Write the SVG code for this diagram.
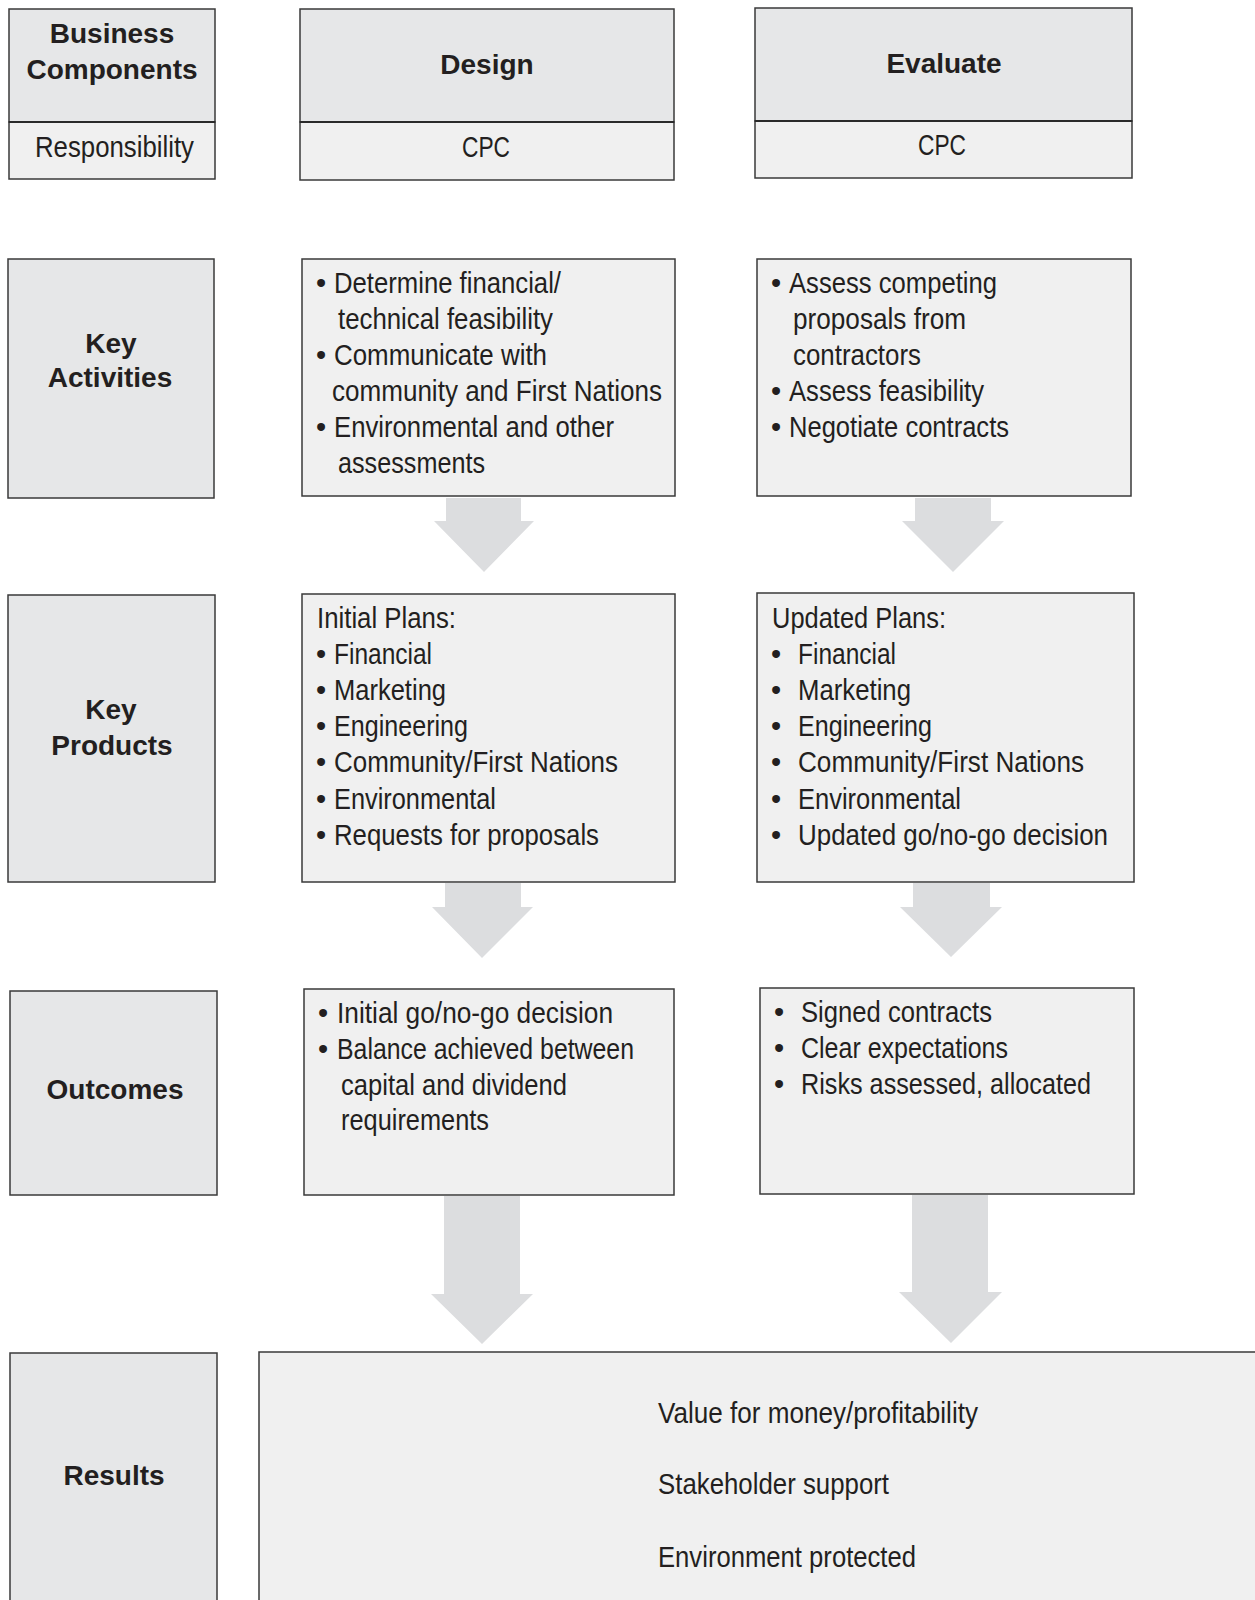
<svg xmlns="http://www.w3.org/2000/svg" width="1255" height="1600" viewBox="0 0 1255 1600">
<style>
.hd{fill:#e6e7e8;stroke:#3a3a3a;stroke-width:1.5}
.bx{fill:#f0f0f0;stroke:#3a3a3a;stroke-width:1.5}
.dv{stroke:#2a2a2a;stroke-width:2.2}
.b{font-family:"Liberation Sans",Arial,sans-serif;font-weight:bold;font-size:28px;fill:#231f20;text-anchor:middle}
.t{font-family:"Liberation Sans",Arial,sans-serif;font-size:29px;fill:#231f20}
.arr{fill:#dcdddf}
</style>
<rect width="1255" height="1600" fill="#ffffff"/>
<g id="connectors">
<polygon class="arr" points="446,498 521,498 521,521 534,521 484,572 434,521 446,521"/>
<polygon class="arr" points="915,498 991,498 991,521 1004,521 953,572 902,521 915,521"/>
<polygon class="arr" points="445,883 521,883 521,907 533,907 482,958 432,907 445,907"/>
<polygon class="arr" points="913,883 990,883 990,907 1002,907 951,957 900,907 913,907"/>
<polygon class="arr" points="444,1196 520,1196 520,1294 533,1294 482,1344 431,1294 444,1294"/>
<polygon class="arr" points="912,1195 988,1195 988,1292 1002,1292 951,1343 899,1292 912,1292"/>
</g>
<g id="business-components">
<rect class="hd" x="9" y="9" width="206" height="113"/>
<rect class="bx" x="9" y="122" width="206" height="57"/>
<line class="dv" x1="9" y1="122" x2="215" y2="122"/>
<text class="b" x="112" y="43">Business</text>
<text class="b" x="112" y="79">Components</text>
<text class="t" x="35" y="157" textLength="159" lengthAdjust="spacingAndGlyphs">Responsibility</text>
</g>
<g id="design-header">
<rect class="hd" x="300" y="9" width="374" height="113"/>
<rect class="bx" x="300" y="122" width="374" height="58"/>
<line class="dv" x1="300" y1="122" x2="674" y2="122"/>
<text class="b" x="487" y="74">Design</text>
<text class="t" x="462" y="157" textLength="48" lengthAdjust="spacingAndGlyphs">CPC</text>
</g>
<g id="evaluate-header">
<rect class="hd" x="755" y="8" width="377" height="113"/>
<rect class="bx" x="755" y="121" width="377" height="57"/>
<line class="dv" x1="755" y1="121" x2="1132" y2="121"/>
<text class="b" x="944" y="73">Evaluate</text>
<text class="t" x="918" y="155" textLength="48" lengthAdjust="spacingAndGlyphs">CPC</text>
</g>
<g id="key-activities">
<rect class="hd" x="8" y="259" width="206" height="239"/>
<text class="b" x="111" y="353">Key</text>
<text class="b" x="110" y="387">Activities</text>
</g>
<g id="design-activities">
<rect class="bx" x="302" y="259" width="373" height="237"/>
<text class="t" x="316" y="293">•</text>
<text class="t" x="334" y="293" textLength="227" lengthAdjust="spacingAndGlyphs">Determine financial/</text>
<text class="t" x="338" y="329" textLength="215" lengthAdjust="spacingAndGlyphs">technical feasibility</text>
<text class="t" x="316" y="365">•</text>
<text class="t" x="334" y="365" textLength="213" lengthAdjust="spacingAndGlyphs">Communicate with</text>
<text class="t" x="332" y="401" textLength="330" lengthAdjust="spacingAndGlyphs">community and First Nations</text>
<text class="t" x="316" y="437">•</text>
<text class="t" x="334" y="437" textLength="280" lengthAdjust="spacingAndGlyphs">Environmental and other</text>
<text class="t" x="338" y="473" textLength="147" lengthAdjust="spacingAndGlyphs">assessments</text>
</g>
<g id="evaluate-activities">
<rect class="bx" x="757" y="259" width="374" height="237"/>
<text class="t" x="771" y="293">•</text>
<text class="t" x="789" y="293" textLength="208" lengthAdjust="spacingAndGlyphs">Assess competing</text>
<text class="t" x="793" y="329" textLength="173" lengthAdjust="spacingAndGlyphs">proposals from</text>
<text class="t" x="793" y="365" textLength="128" lengthAdjust="spacingAndGlyphs">contractors</text>
<text class="t" x="771" y="401">•</text>
<text class="t" x="789" y="401" textLength="195" lengthAdjust="spacingAndGlyphs">Assess feasibility</text>
<text class="t" x="771" y="437">•</text>
<text class="t" x="789" y="437" textLength="220" lengthAdjust="spacingAndGlyphs">Negotiate contracts</text>
</g>
<g id="key-products">
<rect class="hd" x="8" y="595" width="207" height="287"/>
<text class="b" x="111" y="719">Key</text>
<text class="b" x="112" y="755">Products</text>
</g>
<g id="design-products">
<rect class="bx" x="302" y="594" width="373" height="288"/>
<text class="t" x="317" y="628" textLength="139" lengthAdjust="spacingAndGlyphs">Initial Plans:</text>
<text class="t" x="316" y="664">•</text>
<text class="t" x="334" y="664" textLength="98" lengthAdjust="spacingAndGlyphs">Financial</text>
<text class="t" x="316" y="700">•</text>
<text class="t" x="334" y="700" textLength="112" lengthAdjust="spacingAndGlyphs">Marketing</text>
<text class="t" x="316" y="736">•</text>
<text class="t" x="334" y="736" textLength="134" lengthAdjust="spacingAndGlyphs">Engineering</text>
<text class="t" x="316" y="772">•</text>
<text class="t" x="334" y="772" textLength="284" lengthAdjust="spacingAndGlyphs">Community/First Nations</text>
<text class="t" x="316" y="809">•</text>
<text class="t" x="334" y="809" textLength="162" lengthAdjust="spacingAndGlyphs">Environmental</text>
<text class="t" x="316" y="845">•</text>
<text class="t" x="334" y="845" textLength="265" lengthAdjust="spacingAndGlyphs">Requests for proposals</text>
</g>
<g id="evaluate-products">
<rect class="bx" x="757" y="593" width="377" height="289"/>
<text class="t" x="772" y="628" textLength="174" lengthAdjust="spacingAndGlyphs">Updated Plans:</text>
<text class="t" x="771" y="664">•</text>
<text class="t" x="798" y="664" textLength="98" lengthAdjust="spacingAndGlyphs">Financial</text>
<text class="t" x="771" y="700">•</text>
<text class="t" x="798" y="700" textLength="113" lengthAdjust="spacingAndGlyphs">Marketing</text>
<text class="t" x="771" y="736">•</text>
<text class="t" x="798" y="736" textLength="134" lengthAdjust="spacingAndGlyphs">Engineering</text>
<text class="t" x="771" y="772">•</text>
<text class="t" x="798" y="772" textLength="286" lengthAdjust="spacingAndGlyphs">Community/First Nations</text>
<text class="t" x="771" y="809">•</text>
<text class="t" x="798" y="809" textLength="163" lengthAdjust="spacingAndGlyphs">Environmental</text>
<text class="t" x="771" y="845">•</text>
<text class="t" x="798" y="845" textLength="310" lengthAdjust="spacingAndGlyphs">Updated go/no-go decision</text>
</g>
<g id="outcomes">
<rect class="hd" x="10" y="991" width="207" height="204"/>
<text class="b" x="115" y="1099">Outcomes</text>
</g>
<g id="design-outcomes">
<rect class="bx" x="304" y="989" width="370" height="206"/>
<text class="t" x="318" y="1023">•</text>
<text class="t" x="337" y="1023" textLength="276" lengthAdjust="spacingAndGlyphs">Initial go/no-go decision</text>
<text class="t" x="318" y="1059">•</text>
<text class="t" x="337" y="1059" textLength="297" lengthAdjust="spacingAndGlyphs">Balance achieved between</text>
<text class="t" x="341" y="1095" textLength="226" lengthAdjust="spacingAndGlyphs">capital and dividend</text>
<text class="t" x="341" y="1130" textLength="148" lengthAdjust="spacingAndGlyphs">requirements</text>
</g>
<g id="evaluate-outcomes">
<rect class="bx" x="760" y="988" width="374" height="206"/>
<text class="t" x="774" y="1022">•</text>
<text class="t" x="801" y="1022" textLength="191" lengthAdjust="spacingAndGlyphs">Signed contracts</text>
<text class="t" x="774" y="1058">•</text>
<text class="t" x="801" y="1058" textLength="207" lengthAdjust="spacingAndGlyphs">Clear expectations</text>
<text class="t" x="774" y="1094">•</text>
<text class="t" x="801" y="1094" textLength="290" lengthAdjust="spacingAndGlyphs">Risks assessed, allocated</text>
</g>
<g id="results-label">
<rect class="hd" x="10" y="1353" width="207" height="260"/>
<text class="b" x="114" y="1485">Results</text>
</g>
<g id="results">
<rect class="bx" x="259" y="1352" width="1010" height="260"/>
<text class="t" x="658" y="1423" textLength="320" lengthAdjust="spacingAndGlyphs">Value for money/profitability</text>
<text class="t" x="658" y="1494" textLength="231" lengthAdjust="spacingAndGlyphs">Stakeholder support</text>
<text class="t" x="658" y="1567" textLength="258" lengthAdjust="spacingAndGlyphs">Environment protected</text>
</g>
</svg>
